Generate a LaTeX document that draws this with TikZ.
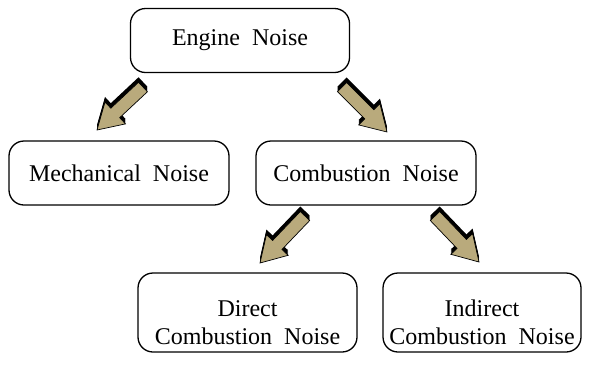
\documentclass[tikz,border=0pt]{standalone}
\usepackage{fontspec}
\setmainfont{Liberation Serif}
\usetikzlibrary{calc}
\definecolor{tanfill}{HTML}{B9AA7C}
\tikzset{
  box/.style={draw=black, line width=1.3pt, rounded corners=15pt, fill=white,
    font=\fontsize{24}{28}\selectfont, align=center, inner sep=0pt},
  arrowface/.style={fill=tanfill, draw=black, line width=0.7pt, line join=miter},
}
\newcommand\arrowpath[2]{%
  ($(#1)!6.5pt!90:(#2)$) -- ($(h)!6.5pt!90:(#2)$) -- ($(h)!15pt!90:(#2)$) -- (#2)
  -- ($(h)!15pt!-90:(#2)$) -- ($(h)!6.5pt!-90:(#2)$) -- ($(#1)!6.5pt!-90:(#2)$) -- cycle}
\newcommand\blockarrow[2]{%
  \coordinate (h) at ($(#2)!25pt!(#1)$);
  \foreach \k in {1,...,5} {\fill[black, transform canvas={yshift=\k pt}] \arrowpath{#1}{#2};}
  \filldraw[arrowface] \arrowpath{#1}{#2};
}
\newcommand\lowstrut{\rule{0pt}{37pt}}
\begin{document}
\begin{tikzpicture}[x=1pt, y=-1pt]
\useasboundingbox (0,0) rectangle (591,368);
\node[box, minimum width=219pt, minimum height=64pt] (engine) at (240,40.5) {Engine\ \ Noise};
\node[box, minimum width=220pt, minimum height=64pt] (mech) at (119,173) {Mechanical\ \ Noise};
\node[box, minimum width=220pt, minimum height=64pt] (comb) at (366,173) {Combustion\ \ Noise};
\node[box, minimum width=219pt, minimum height=79pt] (direct) at (247.5,312.5) {\lowstrut Direct\\Combustion\ \ Noise};
\node[box, minimum width=198pt, minimum height=79pt] (indirect) at (482,312.5) {\lowstrut Indirect\\Combustion\ \ Noise};
\coordinate (t1) at (143,87); \coordinate (p1) at (97,130);
\coordinate (t2) at (342,87); \coordinate (p2) at (387,132);
\coordinate (t3) at (305,216); \coordinate (p3) at (260,263);
\coordinate (t4) at (435,216); \coordinate (p4) at (479,262);
\blockarrow{t1}{p1}
\blockarrow{t2}{p2}
\blockarrow{t3}{p3}
\blockarrow{t4}{p4}
\end{tikzpicture}
\end{document}
